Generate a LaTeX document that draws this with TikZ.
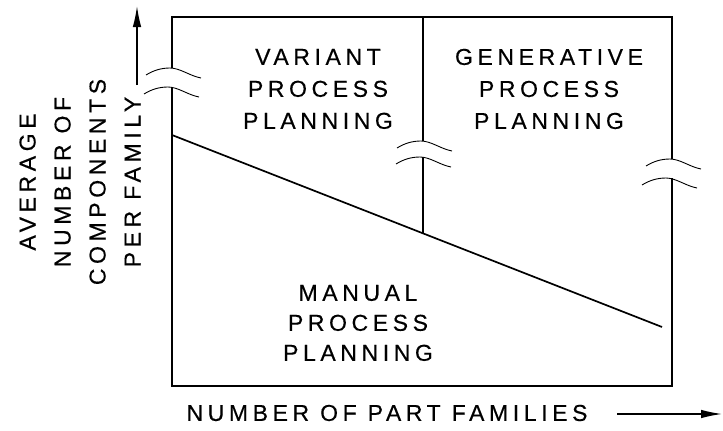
\documentclass[tikz,border=0pt]{standalone}
\usepackage{fontspec}
\setmainfont{Liberation Sans}[LetterSpace=20,FakeBold=0.4]
\usetikzlibrary{arrows.meta}
\begin{document}
\begin{tikzpicture}[x=1pt,y=-1pt,
  frame/.style={line width=1.7pt, black},
  brkline/.style={line width=0.9pt, black},
  lbl/.style={font=\fontsize{23}{32}\selectfont, align=center, inner sep=0pt},
  axarrow/.style={line width=1.3pt, -{Latex[length=21pt,width=8.5pt]}},
  brk/.pic={\draw[brkline] (-24,7) .. controls (-16,2) and (-8,0) .. (0,0) .. controls (10,0) and (20,8) .. (31,10);}
]
\useasboundingbox (0,0) rectangle (723,431);
% frame corners
\coordinate (tl) at (172,17);
\coordinate (tr) at (672,17);
\coordinate (bl) at (172,386);
\coordinate (br) at (672,386);
% left edge break
\coordinate (lb1) at (172,68);
\coordinate (lb2) at (172,87);
% right edge break
\coordinate (rb1) at (672,159);
\coordinate (rb2) at (672,178);
% divider
\coordinate (dt) at (423,17);
\coordinate (db1) at (423,141);
\coordinate (db2) at (423,157);
\coordinate (dm) at (423,233);
% diagonal
\coordinate (d1) at (172,135);
\coordinate (d2) at (662,327);

\draw[frame] (lb1) -- (tl) -- (tr) -- (rb1);
\draw[frame] (lb2) -- (bl) -- (br) -- (rb2);
\draw[frame] (dt) -- (db1);
\draw[frame] (db2) -- (dm);
\draw[frame] (d1) -- (d2);

\pic at (170,68) {brk};
\pic at (168,87) {brk};
\pic at (421,141) {brk};
\pic at (420,157) {brk};
\pic at (670,159) {brk};
\pic at (666,178) {brk};

\node[lbl] (variant) at (318,89) {VARIANT\\PROCESS\\PLANNING};
\node[lbl] (generative) at (549,89) {GENERATIVE\\PROCESS\\PLANNING};
\node[lbl, font=\fontsize{23}{30}\selectfont] (manual) at (358,323) {MANUAL\\PROCESS\\PLANNING};

\node[lbl, rotate=90, font=\fontsize{23}{35}\selectfont] (ylab) at (80,182) {AVERAGE\\NUMBER OF\\COMPONENTS\\PER FAMILY};
\node[lbl] (xlab) at (387,413) {NUMBER OF PART FAMILIES};

\coordinate (ys) at (137,85);
\coordinate (ye) at (137,6);
\draw[axarrow] (ys) -- (ye);
\coordinate (xs) at (617,414);
\coordinate (xe) at (722,414);
\draw[axarrow] (xs) -- (xe);
\end{tikzpicture}
\end{document}
